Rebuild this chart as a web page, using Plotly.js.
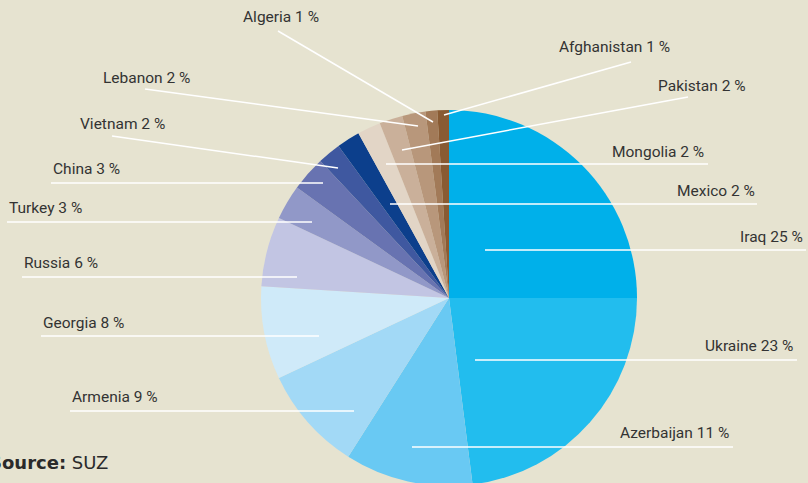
<!DOCTYPE html>
<html>
<head>
<meta charset="utf-8">
<script src="https://cdn.plot.ly/plotly-3.0.1.min.js"></script>
<style>
  html, body { margin: 0; padding: 0; overflow: hidden; background: #e6e3d0; }
  #chart { width: 808px; height: 500px; }
</style>
</head>
<body>
<div id="chart"></div>
<script>
// share of asylum applications by country of origin (%)
const countries = ['Iraq', 'Ukraine', 'Azerbaijan', 'Armenia', 'Georgia', 'Russia', 'Turkey',
  'China', 'Vietnam', 'Mexico', 'Mongolia', 'Lebanon', 'Pakistan', 'Algeria', 'Afghanistan'];
const shares = [25, 23, 11, 9, 8, 6, 3, 3, 2, 2, 2, 2, 2, 1, 1];
const colors = ['#00b0ea', '#22bdee', '#69c9f3', '#a2d9f6', '#cfeaf9', '#c2c5e3', '#9198c8',
  '#6873b1', '#3f58a0', '#0c3f8c', '#e2d5c6', '#cab09a', '#b8977b', '#a27a58', '#895b33'];

// label placement in pixels: text anchor + leader line (start, end)
const labelPos = {
  Algeria:     {x: 241, y: 17,  side: 'left',  line: [278, 31, 433, 122]},
  Afghanistan: {x: 557, y: 47,  side: 'left',  line: [631, 62, 444, 115]},
  Lebanon:     {x: 101, y: 78,  side: 'left',  line: [145, 89, 418, 126]},
  Pakistan:    {x: 656, y: 86,  side: 'left',  line: [688, 97, 402, 150]},
  Vietnam:     {x: 78,  y: 124, side: 'left',  line: [112, 136, 338, 168]},
  Mongolia:    {x: 706, y: 152, side: 'right', line: [386, 164, 708, 164]},
  China:       {x: 51,  y: 169, side: 'left',  line: [51, 183, 323, 183]},
  Mexico:      {x: 757, y: 191, side: 'right', line: [390, 204, 757, 204]},
  Turkey:      {x: 7,   y: 208, side: 'left',  line: [7, 222, 312, 222]},
  Iraq:        {x: 805, y: 237, side: 'right', line: [485, 250, 806, 250]},
  Russia:      {x: 22,  y: 263, side: 'left',  line: [22, 277, 297, 277]},
  Georgia:     {x: 41,  y: 323, side: 'left',  line: [41, 336, 319, 336]},
  Ukraine:     {x: 795, y: 346, side: 'right', line: [475, 360, 797, 360]},
  Armenia:     {x: 70,  y: 397, side: 'left',  line: [70, 411, 354, 411]},
  Azerbaijan:  {x: 731, y: 433, side: 'right', line: [412, 447, 733, 447]}
};

const W = 808, H = 500;
const px = x => x / W;
const py = y => 1 - y / H;

const labelFont = {family: 'Roboto, "Liberation Sans", sans-serif', size: 15.5, color: '#333333'};

const annotations = countries.map((c, i) => {
  const p = labelPos[c];
  return {
    text: c + ' ' + shares[i] + ' %',
    x: px(p.x), y: py(p.y), xref: 'paper', yref: 'paper',
    xanchor: p.side, yanchor: 'middle',
    showarrow: false, font: labelFont
  };
});

annotations.push({
  text: '<b>Source:</b> SUZ',
  x: px(110), y: py(462), xref: 'paper', yref: 'paper',
  xanchor: 'right', yanchor: 'middle', showarrow: false,
  font: {family: '"DejaVu Sans", sans-serif', size: 18, color: '#2a2a2a'}
});

const shapes = countries.map(c => {
  const l = labelPos[c].line;
  return {
    type: 'line', xref: 'paper', yref: 'paper',
    x0: px(l[0]), y0: py(l[1]), x1: px(l[2]), y1: py(l[3]),
    line: {color: '#ffffff', width: 1.5}
  };
});

const trace = {
  type: 'pie',
  labels: countries,
  values: shares,
  sort: false,
  direction: 'clockwise',
  rotation: 0,
  textinfo: 'none',
  hoverinfo: 'label+percent',
  marker: {colors: colors, line: {width: 0}},
  domain: {x: [px(261), px(637)], y: [py(486), py(110)]}
};

const layout = {
  width: W,
  height: H,
  margin: {l: 0, r: 0, t: 0, b: 0},
  paper_bgcolor: '#e6e3d0',
  plot_bgcolor: '#e6e3d0',
  showlegend: false,
  annotations: annotations,
  shapes: shapes
};

Plotly.newPlot('chart', [trace], layout, {displayModeBar: false, staticPlot: true});
</script>
</body>
</html>
